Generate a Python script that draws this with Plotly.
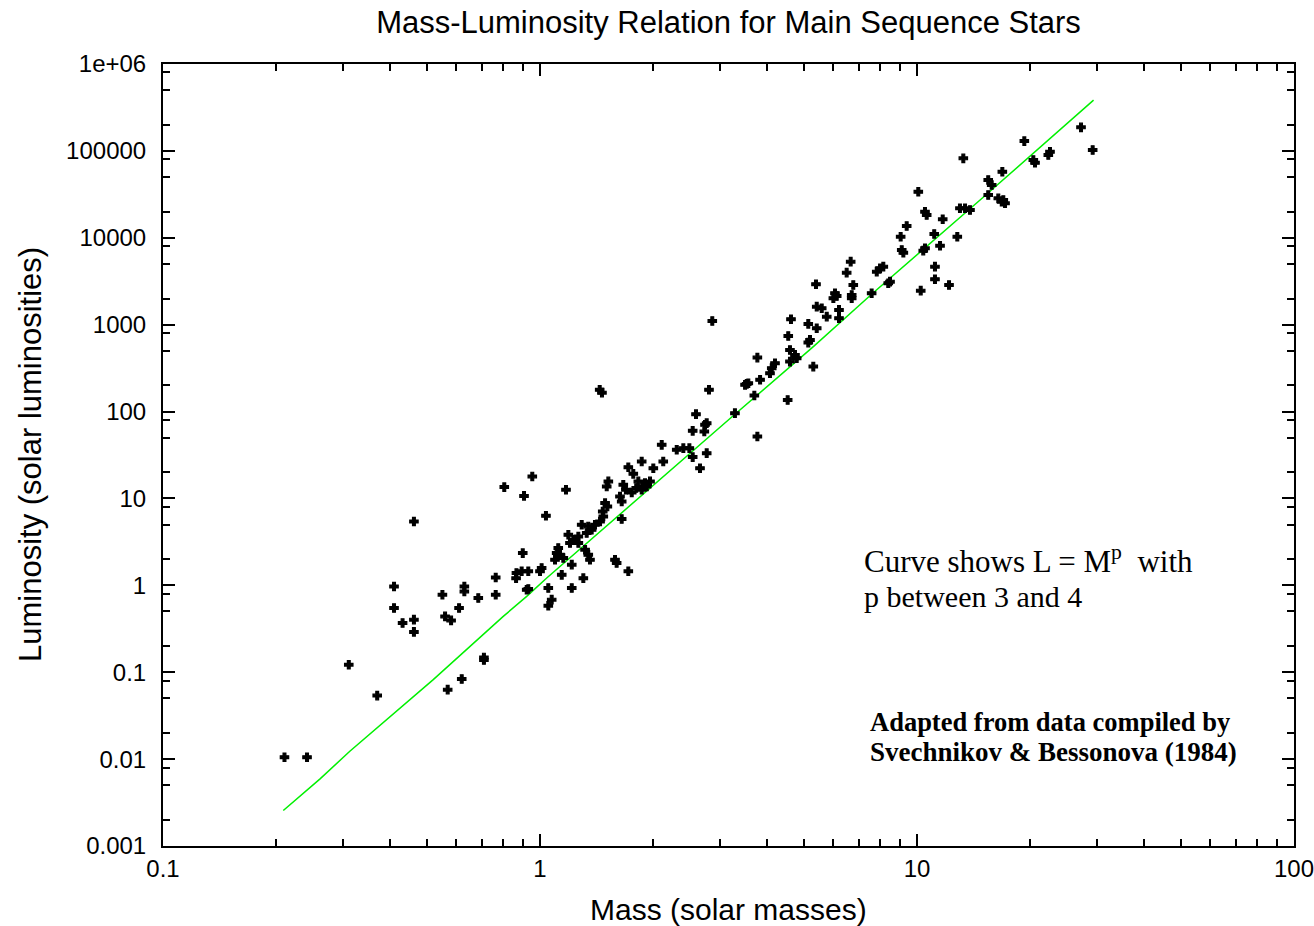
import plotly.graph_objects as go

# ---- data ----
star_mass = [
    0.954, 0.804, 0.907, 0.463, 1.037, 0.90, 0.41, 0.551, 0.63, 0.63, 0.686, 0.763, 0.763,
    0.866, 0.864, 0.931, 1.01, 0.931, 0.922, 1.052, 1.052, 0.41, 0.432, 0.463, 0.463, 0.56,
    0.581, 0.61, 0.311, 0.37, 0.71, 0.71, 0.62, 0.569, 0.21, 0.241,
    1.44, 1.46, 2.807, 3.535, 2.593, 3.289, 2.768, 2.541, 2.728, 2.103, 2.305, 2.40, 2.49,
    2.541, 2.768, 2.657, 1.861, 2.123, 1.998, 1.715, 1.768, 1.518, 1.503, 1.663, 1.823,
    1.899, 1.958, 1.69, 1.751, 1.80, 1.861, 1.919, 1.63, 1.647, 1.172, 1.488, 1.509, 1.467,
    1.472, 1.443, 1.29, 1.343, 1.399, 1.33, 1.371, 1.189, 1.226, 1.264, 1.201, 1.264, 1.118,
    1.107, 1.13, 1.096, 1.153, 1.317, 1.343, 1.357, 1.0, 0.894, 1.581, 1.597, 1.715, 1.214,
    1.142, 1.303, 1.214, 1.074, 1.647,
    6.669, 6.508, 8.39, 5.396, 6.776, 6.06, 6.0, 6.124, 6.711, 6.711, 7.58, 5.42, 5.588,
    5.762, 6.21, 6.21, 2.864, 4.632, 5.148, 5.42, 4.555, 5.202, 5.148, 4.603, 4.746, 4.796,
    4.603, 3.772, 4.201, 4.118, 4.074, 5.308, 3.569, 3.499, 3.835, 3.703, 4.539, 2.74,
    3.772, 7.82, 7.98, 8.14,
    27.23, 29.24, 19.26, 22.53, 22.3, 20.35, 20.56, 13.27, 16.84, 15.45, 15.78, 15.45, 16.43,
    16.94, 17.12, 16.78, 10.08, 13.0, 13.41, 13.82, 10.5, 10.61, 11.7, 9.39, 9.05, 11.11,
    12.79, 9.11, 9.2, 10.5, 10.39, 11.51, 8.48, 11.16, 11.16, 12.16, 10.23,
]
star_lum = [
    17.9, 13.5, 10.7, 5.43, 6.32, 2.35, 0.97, 0.78, 0.97, 0.85, 0.715, 1.23, 0.78,
    1.385, 1.21, 1.45, 1.58, 0.907, 0.89, 0.93, 0.583, 0.549, 0.369, 0.403, 0.291, 0.439,
    0.395, 0.549, 0.122, 0.0538, 0.148, 0.138, 0.0837, 0.063, 0.0105, 0.0105,
    178, 165, 178, 208, 93.3, 95.9, 73.5, 60, 58.9, 41.4, 36.3, 37.9, 37.9,
    29.9, 33.2, 22.3, 26.6, 26.6, 22.3, 22.9, 19.2, 15.7, 13.7, 14.4, 15.7,
    15.0, 15.7, 12.6, 11.7, 13.2, 12.6, 13.7, 10.5, 9.23, 12.6, 8.84, 8.08, 7.08,
    6.2, 5.43, 4.98, 4.76, 4.98, 4.0, 4.36, 3.82, 3.35, 3.65, 3.07, 3.07, 2.69,
    2.35, 2.25, 1.97, 2.06, 2.57, 2.25, 1.97, 1.45, 1.45, 1.97, 1.81, 1.45, 1.73,
    1.32, 1.21, 0.93, 0.684, 5.8,
    5309, 3970, 2997, 2918, 2864, 2300, 2014, 2141, 2198, 2014, 2300, 1613, 1545,
    1237, 1478, 1186, 1104, 1155, 1020, 910, 742, 668, 622, 512, 449, 411,
    376, 418, 360, 316, 276, 329, 212, 203, 232, 153, 136, 70.3,
    51.6, 4073, 4457, 4650,
    186500, 102200, 129700, 97730, 89540, 78470, 72970, 82040, 57540, 46200, 40460, 31040, 28440,
    27200, 24920, 26000, 33880, 21830, 21830, 20870, 19950, 18280, 16320, 13660, 10290, 11060,
    10290, 7240, 6738, 7570, 7106, 8110, 3126, 4650, 3333, 2864, 2462,
]

curve_mass = [0.2085, 0.261, 0.313, 0.521, 0.799, 0.922, 1.042, 1.63, 2.35, 3.289, 5.31, 7.63, 14.7, 29.4]
curve_lum = [0.00256, 0.00593, 0.0123, 0.0822, 0.439, 0.746, 1.214, 6.57, 26.6, 93, 559, 2300, 27200, 384000]

x_tick_vals = [0.1, 1, 10, 100]
x_tick_text = ["0.1", "1", "10", "100"]
y_tick_vals = [0.001, 0.01, 0.1, 1, 10, 100, 1000, 10000, 100000, 1000000]
y_tick_text = ["0.001", "0.01", "0.1", "1", "10", "100", "1000", "10000", "100000", "1e+06"]

x_minor = [m * d for d in [0.1, 1, 10] for m in range(2, 10)]
y_minor = [m * d for d in [0.001, 0.01, 0.1, 1, 10, 100, 1000, 10000, 100000] for m in (2, 5, 8)]

SANS = "Liberation Sans, Arial, sans-serif"
SERIF = "Liberation Serif, Times New Roman, serif"

fig = go.Figure()
fig.add_trace(go.Scatter(
    x=curve_mass, y=curve_lum, mode="lines",
    line=dict(color="#00f000", width=1.5), hoverinfo="skip", showlegend=False,
))
fig.add_trace(go.Scatter(
    x=star_mass, y=star_lum, mode="markers",
    marker=dict(symbol="cross", size=7, color="black", line=dict(width=1.2, color="black")),
    showlegend=False,
))

axis_common = dict(
    type="log", showgrid=False, zeroline=False, automargin=False,
    showline=True, linecolor="black", linewidth=2, mirror="allticks",
    ticks="inside", ticklen=12, tickwidth=1.5, tickcolor="black",
    ticklabeloverflow="allow",
    tickfont=dict(family=SANS, size=24, color="black"),
)

fig.update_layout(
    width=1314, height=926,
    paper_bgcolor="white", plot_bgcolor="white",
    margin=dict(l=163, r=20, t=64, b=80, autoexpand=False),
    title=dict(text="Mass-Luminosity Relation for Main Sequence Stars",
               x=0.5, xref="paper", y=1 - 22 / 926, yref="container",
               xanchor="center", yanchor="middle",
               font=dict(family=SANS, size=31, color="black")),
    xaxis=dict(axis_common, range=[-1, 2], tickmode="array",
               tickvals=x_tick_vals, ticktext=x_tick_text,
               minor=dict(tickmode="array", tickvals=x_minor, ticks="inside",
                          ticklen=7, tickwidth=1.5, tickcolor="black")),
    yaxis=dict(axis_common, range=[-3, 6], tickmode="array",
               tickvals=y_tick_vals, ticktext=y_tick_text, ticklabelstandoff=10,
               minor=dict(tickmode="array", tickvals=y_minor, ticks="inside",
                          ticklen=7, tickwidth=1.5, tickcolor="black")),
)

annotations = [
    dict(text="Mass (solar masses)", x=0.5, y=0, xref="paper", yref="paper",
         xanchor="center", yanchor="middle", yshift=-63, showarrow=False,
         font=dict(family=SANS, size=30, color="black")),
    dict(text="Luminosity (solar luminosities)", x=0, y=0.5, xref="paper", yref="paper",
         xanchor="center", yanchor="middle", xshift=-133, textangle=-90, showarrow=False,
         font=dict(family=SANS, size=31, color="black")),
    dict(text="Curve shows L = M<sup>p</sup>  with", x=(862 - 163) / 1131, y=(846.5 - 560) / 782.5,
         xref="paper", yref="paper", xanchor="left", yanchor="middle", showarrow=False,
         font=dict(family=SERIF, size=31, color="black")),
    dict(text="p between 3 and 4", x=(862 - 163) / 1131, y=(846.5 - 597) / 782.5,
         xref="paper", yref="paper", xanchor="left", yanchor="middle", showarrow=False,
         font=dict(family=SERIF, size=30, color="black")),
    dict(text="<b>Adapted from data compiled by</b>", x=(868 - 163) / 1131, y=(846.5 - 722) / 782.5,
         xref="paper", yref="paper", xanchor="left", yanchor="middle", showarrow=False,
         font=dict(family=SERIF, size=26.5, color="black")),
    dict(text="<b>Svechnikov &amp; Bessonova (1984)</b>", x=(868 - 163) / 1131, y=(846.5 - 752) / 782.5,
         xref="paper", yref="paper", xanchor="left", yanchor="middle", showarrow=False,
         font=dict(family=SERIF, size=27, color="black")),
]
fig.update_layout(annotations=annotations)

fig.write_html(
    "out.html",
    config={"displayModeBar": False},
    post_script="document.body.style.margin='0';document.body.style.overflow='hidden';",
)
